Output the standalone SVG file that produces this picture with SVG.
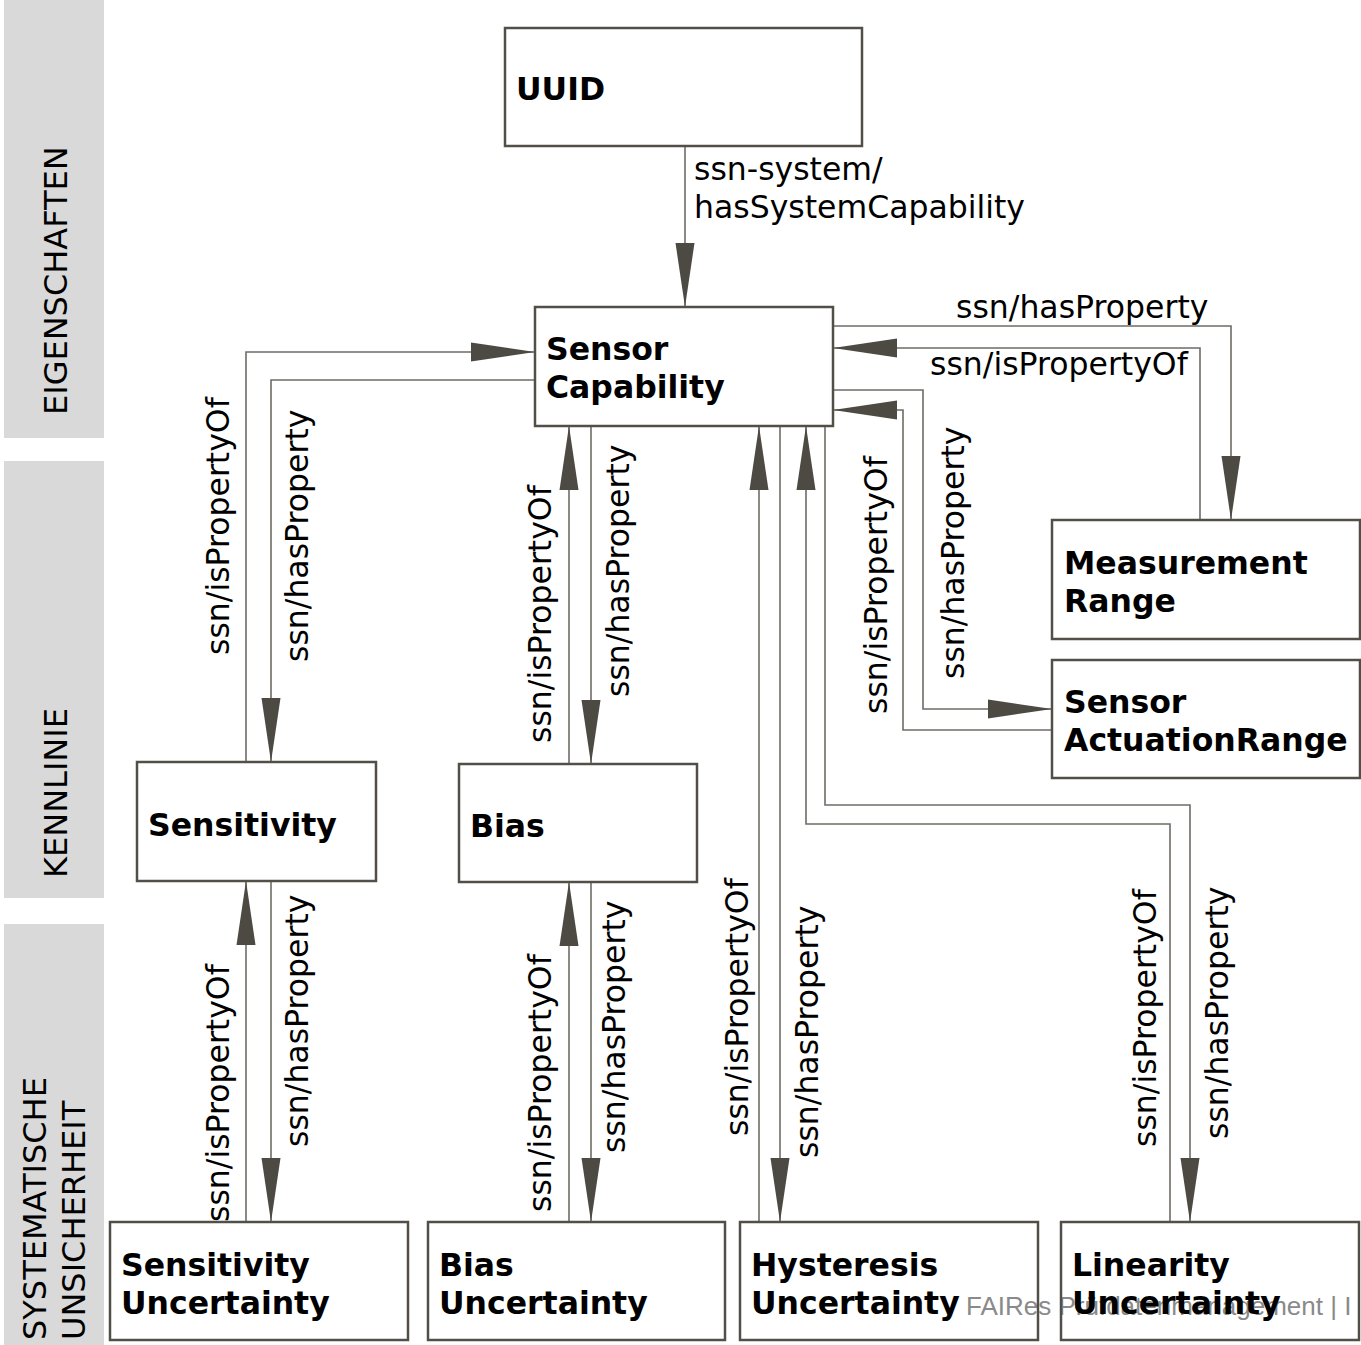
<svg xmlns="http://www.w3.org/2000/svg" width="1361" height="1345" viewBox="0 0 1361 1345">
  <style>
    .band { fill: #d9d9d9; }
    .band-label { font-family: "DejaVu Sans", Verdana, sans-serif; font-size: 32px; fill: #000; }
    .box { fill: none; stroke: #524f49; stroke-width: 2.5; }
    .node-text { font-family: "DejaVu Sans", Verdana, sans-serif; font-weight: bold; font-size: 31.5px; fill: #000; }
    .edge { fill: none; stroke: #6f6c66; stroke-width: 1.6; marker-end: url(#arrow); }
    .edge-label { font-family: "DejaVu Sans", Verdana, sans-serif; font-size: 31.5px; fill: #000; }
    .footer { font-family: "Liberation Sans", Arial, sans-serif; font-size: 26px; fill: #8a8a8a; }
  </style>
  <defs>
    <marker id="arrow" markerUnits="userSpaceOnUse" markerWidth="66" markerHeight="22" refX="64" refY="10" orient="auto">
      <path d="M0,0.5 L64,10 L0,19.5 Z" fill="#4d4a44"/>
    </marker>
  </defs>

  <rect width="1361" height="1345" fill="#ffffff"/>

  <!-- side bands -->
  <g id="bands">
    <rect class="band" x="4" y="0" width="100" height="438"/>
    <rect class="band" x="4" y="461" width="100" height="437"/>
    <rect class="band" x="4" y="924" width="100" height="421"/>
    <text class="band-label" transform="translate(67,415) rotate(-90)">EIGENSCHAFTEN</text>
    <text class="band-label" transform="translate(67,878) rotate(-90)">KENNLINIE</text>
    <text class="band-label" transform="translate(46,1340) rotate(-90)">SYSTEMATISCHE</text>
    <text class="band-label" transform="translate(85,1340) rotate(-90)">UNSICHERHEIT</text>
  </g>

  <!-- slide footer -->
  <text class="footer" x="966" y="1315">FAIRes Prüfdatenmanagement | I</text>

  <!-- connectors -->
  <g id="connectors">
    <path class="edge" d="M685,146 V307"/>
    <path class="edge" d="M833,326 H1231 V520"/>
    <path class="edge" d="M1200,520 V348 H833"/>
    <path class="edge" d="M833,390 H923 V709 H1052"/>
    <path class="edge" d="M1052,730 H903 V410 H833"/>
    <path class="edge" d="M246,762 V352 H535"/>
    <path class="edge" d="M535,380 H271 V762"/>
    <path class="edge" d="M569,764 V426"/>
    <path class="edge" d="M591,426 V764"/>
    <path class="edge" d="M246,1222 V881"/>
    <path class="edge" d="M271,881 V1222"/>
    <path class="edge" d="M569,1222 V882"/>
    <path class="edge" d="M591,882 V1222"/>
    <path class="edge" d="M759,1222 V426"/>
    <path class="edge" d="M780,426 V1222"/>
    <path class="edge" d="M1170,1222 V824 H806 V426"/>
    <path class="edge" d="M825,426 V805 H1190 V1222"/>

    <text class="edge-label" x="694" y="180">ssn-system/</text>
    <text class="edge-label" x="694" y="218">hasSystemCapability</text>
    <text class="edge-label" x="956" y="318">ssn/hasProperty</text>
    <text class="edge-label" x="930" y="375">ssn/isPropertyOf</text>

    <text class="edge-label" transform="translate(229,655) rotate(-90)">ssn/isPropertyOf</text>
    <text class="edge-label" transform="translate(308,662) rotate(-90)">ssn/hasProperty</text>
    <text class="edge-label" transform="translate(551,743) rotate(-90)">ssn/isPropertyOf</text>
    <text class="edge-label" transform="translate(629,697) rotate(-90)">ssn/hasProperty</text>
    <text class="edge-label" transform="translate(887,714) rotate(-90)">ssn/isPropertyOf</text>
    <text class="edge-label" transform="translate(964,679) rotate(-90)">ssn/hasProperty</text>
    <text class="edge-label" transform="translate(229,1222) rotate(-90)">ssn/isPropertyOf</text>
    <text class="edge-label" transform="translate(308,1147) rotate(-90)">ssn/hasProperty</text>
    <text class="edge-label" transform="translate(551,1212) rotate(-90)">ssn/isPropertyOf</text>
    <text class="edge-label" transform="translate(625,1153) rotate(-90)">ssn/hasProperty</text>
    <text class="edge-label" transform="translate(748,1136) rotate(-90)">ssn/isPropertyOf</text>
    <text class="edge-label" transform="translate(818,1158) rotate(-90)">ssn/hasProperty</text>
    <text class="edge-label" transform="translate(1156,1147) rotate(-90)">ssn/isPropertyOf</text>
    <text class="edge-label" transform="translate(1228,1139) rotate(-90)">ssn/hasProperty</text>
  </g>

  <!-- nodes -->
  <g id="uuid">
    <rect class="box" x="505" y="28" width="357" height="118"/>
    <text class="node-text" x="516" y="100">UUID</text>
  </g>
  <g id="sensor-capability">
    <rect class="box" x="535" y="307" width="298" height="119"/>
    <text class="node-text" x="546" y="360">Sensor</text>
    <text class="node-text" x="546" y="398">Capability</text>
  </g>
  <g id="measurement-range">
    <rect class="box" x="1052" y="520" width="308" height="119"/>
    <text class="node-text" x="1064" y="574">Measurement</text>
    <text class="node-text" x="1064" y="612">Range</text>
  </g>
  <g id="sensor-actuation-range">
    <rect class="box" x="1052" y="660" width="308" height="118"/>
    <text class="node-text" x="1064" y="713">Sensor</text>
    <text class="node-text" x="1064" y="751">ActuationRange</text>
  </g>
  <g id="sensitivity">
    <rect class="box" x="137" y="762" width="239" height="119"/>
    <text class="node-text" x="148" y="836">Sensitivity</text>
  </g>
  <g id="bias">
    <rect class="box" x="459" y="764" width="238" height="118"/>
    <text class="node-text" x="470" y="837">Bias</text>
  </g>
  <g id="sensitivity-uncertainty">
    <rect class="box" x="110" y="1222" width="298" height="118"/>
    <text class="node-text" x="121" y="1276">Sensitivity</text>
    <text class="node-text" x="121" y="1314">Uncertainty</text>
  </g>
  <g id="bias-uncertainty">
    <rect class="box" x="428" y="1222" width="297" height="118"/>
    <text class="node-text" x="439" y="1276">Bias</text>
    <text class="node-text" x="439" y="1314">Uncertainty</text>
  </g>
  <g id="hysteresis-uncertainty">
    <rect class="box" x="740" y="1222" width="298" height="118"/>
    <text class="node-text" x="751" y="1276">Hysteresis</text>
    <text class="node-text" x="751" y="1314">Uncertainty</text>
  </g>
  <g id="linearity-uncertainty">
    <rect class="box" x="1061" y="1222" width="298" height="118"/>
    <text class="node-text" x="1072" y="1276">Linearity</text>
    <text class="node-text" x="1072" y="1314">Uncertainty</text>
  </g>
</svg>
